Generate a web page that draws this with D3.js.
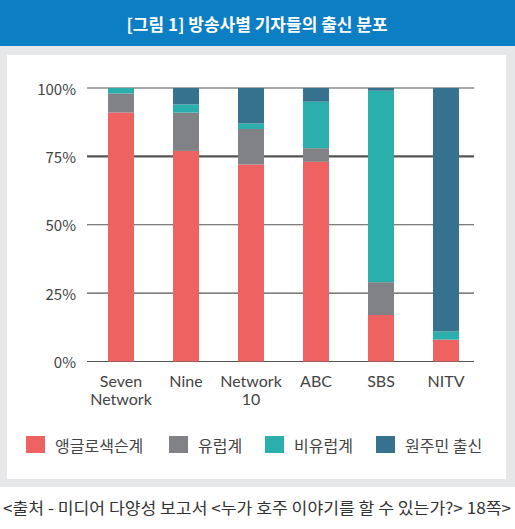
<!DOCTYPE html>
<html>
<head>
<meta charset="utf-8">
<script src="https://cdn.jsdelivr.net/npm/d3@7"></script>
<style>
  body { margin: 0; background: #fff; }
  svg { display: block; font-family: "Noto Sans CJK KR", "Noto Sans", sans-serif; }
</style>
</head>
<body>
<svg id="chart" width="515" height="529"></svg>
<script>
// broadcasters (x axis), label lines
var networks = ["Seven Network", "Nine", "Network 10", "ABC", "SBS", "NITV"];
var networkLines = [["Seven", "Network"], ["Nine"], ["Network", "10"], ["ABC"], ["SBS"], ["NITV"]];

// series names (legend order, bottom to top in the stack)
var groups = ["앵글로색슨계", "유럽계", "비유럽계", "원주민 출신"];

// percent values per broadcaster
var anglo    = [91, 77, 72, 73, 17, 8];
var european = [7, 14, 13, 5, 12, 0];
var nonEuro  = [2, 3, 2, 17, 70, 3];
var native   = [0, 6, 13, 5, 1, 89];

var yTicks = [0, 25, 50, 75, 100];
var colors = ["#ef6262", "#818286", "#2bafac", "#36728d"];

var svg = d3.select("#chart");

// title bar + grey frame + white panel
svg.append("rect").attr("x", 0).attr("y", 0).attr("width", 515).attr("height", 46).attr("fill", "#0b7ec4");
svg.append("text")
  .attr("x", 257).attr("y", 23)
  .attr("text-anchor", "middle").attr("dominant-baseline", "central")
  .attr("fill", "#fff").attr("font-size", 17).attr("font-weight", "bold")
  .text("[그림 1] 방송사별 기자들의 출신 분포");
svg.append("rect").attr("x", 0).attr("y", 46).attr("width", 515).attr("height", 441).attr("fill", "#e6e7e8");
svg.append("rect").attr("x", 7).attr("y", 55).attr("width", 499).attr("height", 424).attr("fill", "#fff");

// build stacked table
var table = networks.map(function(n, i) {
  var row = { name: n };
  row[groups[0]] = anglo[i];
  row[groups[1]] = european[i];
  row[groups[2]] = nonEuro[i];
  row[groups[3]] = native[i];
  return row;
});
var series = d3.stack().keys(groups)(table);

var x = d3.scaleBand().domain(networks).range([88.5, 478.5]).paddingInner(0.6).paddingOuter(0.3);
var y = d3.scaleLinear().domain([0, 100]).range([361.5, 88]);

// gridlines
svg.append("g").selectAll("line")
  .data(yTicks)
  .enter().append("line")
    .attr("x1", 87).attr("x2", 474)
    .attr("y1", function(d) { return y(d); })
    .attr("y2", function(d) { return y(d); })
    .attr("stroke", "#555")
    .attr("stroke-width", function(d) { return d == 75 ? 2.2 : 1.2; });

// y labels
svg.append("g").selectAll("text")
  .data(yTicks)
  .enter().append("text")
    .attr("x", 76)
    .attr("y", function(d) { return y(d); })
    .attr("text-anchor", "end").attr("dominant-baseline", "central")
    .attr("font-size", 15).attr("fill", "#444")
    .text(function(d) { return d + "%"; });

// bars
svg.append("g").selectAll("g")
  .data(series)
  .enter().append("g")
    .attr("fill", function(d, i) { return colors[i]; })
  .selectAll("rect")
  .data(function(d) { return d; })
  .enter().append("rect")
    .attr("x", function(d) { return x(d.data.name); })
    .attr("width", x.bandwidth())
    .attr("y", function(d) { return y(d[1]); })
    .attr("height", function(d) { return y(d[0]) - y(d[1]); });

// x labels, one text per line (Lato has a tighter line box)
var xg = svg.append("g").selectAll("g")
  .data(networks)
  .enter().append("g")
    .attr("transform", function(d) { return "translate(" + (x(d) + x.bandwidth() / 2) + ",0)"; });
xg.selectAll("text")
  .data(function(d, i) { return networkLines[i]; })
  .enter().append("text")
    .attr("text-anchor", "middle").attr("dominant-baseline", "central")
    .attr("font-family", "Lato, sans-serif")
    .attr("font-size", 16).attr("fill", "#444")
    .attr("y", function(d, i) { return 380 + i * 18; })
    .text(function(d) { return d; });

// legend
var legendX = [26, 169, 265, 376];
var lg = svg.append("g").selectAll("g")
  .data(groups)
  .enter().append("g")
    .attr("transform", function(d, i) { return "translate(" + legendX[i] + ",436)"; });
lg.append("rect").attr("width", 19).attr("height", 17)
  .attr("fill", function(d, i) { return colors[i]; });
lg.append("text")
  .attr("x", 29).attr("y", 9)
  .attr("dominant-baseline", "central")
  .attr("font-size", 16).attr("fill", "#444")
  .text(function(d) { return d; });

// source note
svg.append("text")
  .attr("x", 257).attr("y", 507)
  .attr("text-anchor", "middle").attr("dominant-baseline", "central")
  .attr("font-size", 16).attr("fill", "#333")
  .attr("textLength", 508).attr("lengthAdjust", "spacingAndGlyphs")
  .text("<출처 - 미디어 다양성 보고서 <누가 호주 이야기를 할 수 있는가?> 18쪽>");
</script>
</body>
</html>
